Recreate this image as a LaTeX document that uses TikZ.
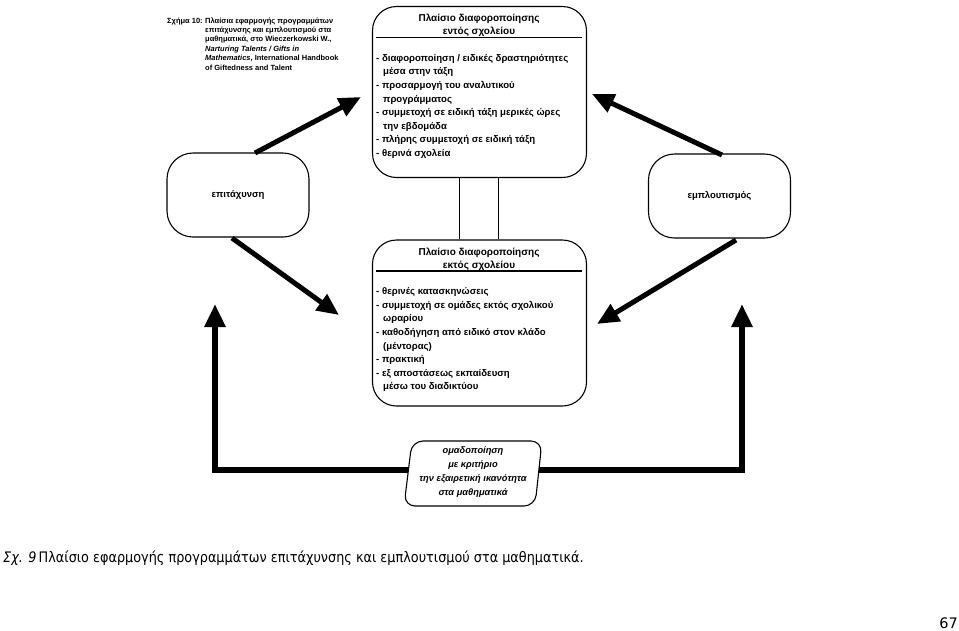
\documentclass[tikz,border=0pt]{standalone}
\usepackage{fontspec}
\setmainfont{Liberation Sans}
\newfontfamily\capfont{DejaVu Sans}
\usetikzlibrary{arrows.meta}
\begin{document}
\begin{tikzpicture}[x=1pt,y=-1pt,
  box/.style={draw, line width=1.1pt, rounded corners=24pt, inner sep=0pt},
  small/.style={draw, line width=1.1pt, rounded corners=26pt, inner sep=0pt, minimum width=142pt, minimum height=84pt, font=\bfseries\fontsize{9.5}{12}\selectfont},
  titletxt/.style={anchor=north, inner sep=0pt, align=center, font=\bfseries\fontsize{10}{13}\selectfont},
  listtxt/.style={anchor=north west, inner sep=0pt, align=left, font=\bfseries\fontsize{9.6}{13.6}\selectfont},
  notetxt/.style={inner sep=0pt, font=\bfseries\fontsize{7.5}{9.4}\selectfont},
  fat/.style={line width=5pt, -{Triangle[length=22pt,width=19pt]}},
  fatter/.style={line width=6.5pt, -{Triangle[length=23pt,width=20pt]}},
  thin/.style={line width=1.1pt}
]
\useasboundingbox (0,0) rectangle (959,630);

% top-left source note
\node[notetxt, anchor=base west] (fig) at (167,23) {Σχήμα 10:};
\node[notetxt, anchor=north west, align=left] (src) at (205,17.3)
 {Πλαίσια εφαρμογής προγραμμάτων\\
  επιτάχυνσης και εμπλουτισμού στα\\
  μαθηματικά, στο Wieczerkowski W.,\\
  \textit{Narturing Talents / Gifts in}\\
  \textit{Mathematics}, International Handbook\\
  of Giftedness and Talent};

% inside school box
\node[box, minimum width=214pt, minimum height=171pt] (in) at (479.5,92) {};
\node[titletxt] (intitle) at (479,14) {Πλαίσιο διαφοροποίησης\\εντός σχολείου};
\draw[thin] (376,37.5) -- (582,37.5);
\node[listtxt] (inlist) at (376,54)
 {- διαφοροποίηση / ειδικές δραστηριότητες\\
  \hspace*{7pt}μέσα στην τάξη\\
  - προσαρμογή του αναλυτικού\\
  \hspace*{7pt}προγράμματος\\
  - συμμετοχή σε ειδική τάξη μερικές ώρες\\
  \hspace*{7pt}την εβδομάδα\\
  - πλήρης συμμετοχή σε ειδική τάξη\\
  - θερινά σχολεία};

% outside school box
\node[box, minimum width=214pt, minimum height=166pt] (out) at (479.5,323) {};
\node[titletxt] (outtitle) at (479,248) {Πλαίσιο διαφοροποίησης\\εκτός σχολείου};
\draw[thin] (376,271) -- (582,271);
\node[listtxt] (outlist) at (376,287.5)
 {- θερινές κατασκηνώσεις\\
  - συμμετοχή σε ομάδες εκτός σχολικού\\
  \hspace*{7pt}ωραρίου\\
  - καθοδήγηση από ειδικό στον κλάδο\\
  \hspace*{7pt}(μέντορας)\\
  - πρακτική\\
  - εξ αποστάσεως εκπαίδευση\\
  \hspace*{7pt}μέσω του διαδικτύου};

% link between the two boxes
\draw[thin] ([xshift=-20pt]in.south) -- ([xshift=-20pt]out.north);
\draw[thin] ([xshift=19pt]in.south) -- ([xshift=19pt]out.north);

% side boxes
\node[small] (acc) at (238,195) {επιτάχυνση};
\node[small] (enr) at (719.5,196) {εμπλουτισμός};

% grouping box (slanted)
\node[inner sep=0pt, align=center, font=\bfseries\itshape\fontsize{9.3}{13.8}\selectfont] (grp) at (473,472)
 {ομαδοποίηση\\με κριτήριο\\την εξαιρετική ικανότητα\\στα μαθηματικά};
\draw[thin, rounded corners=11pt] (412,441) -- (542,441) -- (535,506) -- (404,506) -- cycle;
\coordinate (grpL) at (407.5,470);
\coordinate (grpR) at (538.5,470);

% diagonal arrows
\coordinate (a1s) at (255,153);
\coordinate (a1e) at (361,97);
\coordinate (a2s) at (722,155);
\coordinate (a2e) at (592,94);
\coordinate (a3s) at (232,238);
\coordinate (a3e) at (339,315);
\coordinate (a4s) at (736,240);
\coordinate (a4e) at (597,324);
\draw[fat] (a1s) -- (a1e);
\draw[fat] (a2s) -- (a2e);
\draw[fat] (a3s) -- (a3e);
\draw[fat] (a4s) -- (a4e);

% vertical arrows from grouping box
\coordinate (lup) at (215,304);
\coordinate (rup) at (742,304);
\draw[fatter] (grpL) -| (lup);
\draw[fatter] (grpR) -| (rup);

% caption
\node[anchor=base west, inner sep=0pt, font=\capfont\fontsize{14.5}{16}\selectfont] (cap) at (3,562)
 {\scalebox{0.885}[1]{\textit{Σχ. 9}\,Πλαίσιο εφαρμογής προγραμμάτων επιτάχυνσης και εμπλουτισμού στα μαθηματικά.}};
\node[anchor=base east, inner sep=0pt, font=\capfont\fontsize{14.5}{16}\selectfont] (page) at (958,628) {67};
\end{tikzpicture}
\end{document}
